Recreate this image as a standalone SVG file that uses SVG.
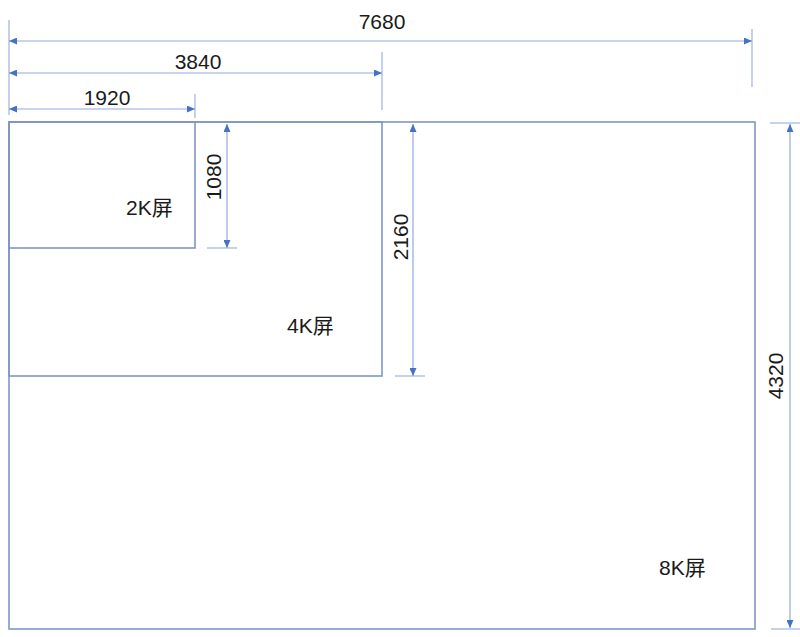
<svg xmlns="http://www.w3.org/2000/svg" width="800" height="637" viewBox="0 0 800 637">
<defs>
<marker id="arr" viewBox="0 0 8 7" refX="8" refY="3.5" markerWidth="8" markerHeight="7" markerUnits="userSpaceOnUse" orient="auto-start-reverse">
<path d="M0,0 L8,3.5 L0,7 z" fill="#4472C4"/>
</marker>
</defs>
<style>
.scr{fill:none;stroke:#8096C2;stroke-width:1.6}
.dim{stroke:#8FAADC;stroke-width:1.2;fill:none}
.ext{stroke:#A9BFE6;stroke-width:1.4;fill:none}
.t{font-family:"Liberation Sans","Noto Sans CJK SC",sans-serif;font-size:21px;fill:#1a1a1a}
</style>
<rect width="800" height="637" fill="#ffffff"/>
<g id="screen8k">
<rect class="scr" x="9" y="122" width="746" height="507"/>
<text class="t" x="659" y="575">8K屏</text>
</g>
<g id="screen4k">
<rect class="scr" x="9" y="122" width="373" height="254"/>
<text class="t" x="287" y="333">4K屏</text>
</g>
<g id="screen2k">
<rect class="scr" x="9" y="122" width="186" height="126"/>
<text class="t" x="126" y="215">2K屏</text>
</g>
<g id="connectors">
<line class="ext" x1="9" y1="20" x2="9" y2="115"/>
<line class="ext" x1="752" y1="29" x2="752" y2="87"/>
<line class="ext" x1="382" y1="52" x2="382" y2="110"/>
<line class="ext" x1="195" y1="94" x2="195" y2="118"/>
<line class="ext" x1="207" y1="248" x2="237" y2="248"/>
<line class="ext" x1="395" y1="376" x2="425" y2="376"/>
<line class="ext" x1="770" y1="123" x2="800" y2="123"/>
<line class="ext" x1="771" y1="629" x2="800" y2="629"/>
<line class="dim" x1="9" y1="41" x2="752" y2="41" marker-start="url(#arr)" marker-end="url(#arr)"/>
<line class="dim" x1="9" y1="73" x2="382" y2="73" marker-start="url(#arr)" marker-end="url(#arr)"/>
<line class="dim" x1="9" y1="109" x2="195" y2="109" marker-start="url(#arr)" marker-end="url(#arr)"/>
<line class="dim" x1="227" y1="124" x2="227" y2="248" marker-start="url(#arr)" marker-end="url(#arr)"/>
<line class="dim" x1="413" y1="124" x2="413" y2="376" marker-start="url(#arr)" marker-end="url(#arr)"/>
<line class="dim" x1="790" y1="124" x2="790" y2="628" marker-start="url(#arr)" marker-end="url(#arr)"/>
</g>
<g id="labels">
<text class="t" x="382" y="29" text-anchor="middle">7680</text>
<text class="t" x="198" y="69" text-anchor="middle">3840</text>
<text class="t" x="107" y="105" text-anchor="middle">1920</text>
<text class="t" x="221" y="177" text-anchor="middle" transform="rotate(-90 221 177)">1080</text>
<text class="t" x="408" y="237" text-anchor="middle" transform="rotate(-90 408 237)">2160</text>
<text class="t" x="783" y="376" text-anchor="middle" transform="rotate(-90 783 376)">4320</text>
</g>
</svg>
